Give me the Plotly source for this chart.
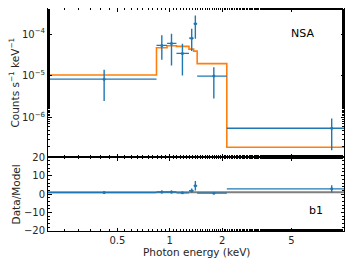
import plotly.graph_objects as go

# ---- data ----
energy = [0.42, 0.90, 1.023, 1.182, 1.336, 1.402, 1.79, 8.5]
e_lo = [0.20, 0.839, 0.965, 1.092, 1.289, 1.371, 1.436, 2.125]
e_hi = [0.839, 0.965, 1.092, 1.289, 1.371, 1.436, 2.125, 14.0]
rate = [8.3e-6, 5.34e-5, 5.96e-5, 3.43e-5, 7.97e-5, 1.76e-4, 9.8e-6, 5.5e-7]
rate_hi = [1.4e-5, 9.3e-5, 1.02e-4, 5.86e-5, 1.34e-4, 2.79e-4, 1.6e-5, 9.4e-7]
rate_lo = [2.48e-6, 2.43e-5, 1.77e-5, 1.02e-5, 3.9e-5, 7.7e-5, 2.83e-6, 1.64e-7]
model_edges = [0.20, 0.839, 0.965, 1.092, 1.289, 1.371, 1.436, 2.125, 10.0]
model_vals = [1.04e-5, 4.7e-5, 5.25e-5, 5.05e-5, 4.35e-5, 3.9e-5, 1.95e-5, 1.94e-7]
ratio = [0.80, 1.14, 1.14, 0.68, 1.83, 4.5, 0.50, 2.84]
ratio_up = [0.55, 0.84, 0.81, 0.48, 1.25, 2.6, 0.32, 2.0]
ratio_dn = [0.56, 0.62, 0.80, 0.48, 0.94, 2.5, 0.36, 2.0]
xticks = [0.5, 1, 2, 5]
xticklabels = ["0.5", "1", "2", "5"]
yticks = [1e-6, 1e-5, 1e-4]
yticklabels = ["10<sup>\u22126</sup>", "10<sup>\u22125</sup>", "10<sup>\u22124</sup>"]
rticks = [-20, -10, 0, 10, 20]
rticklabels = ["\u221220", "\u221210", "0", "10", "20"]

BLUE = "#1f77b4"
ORANGE = "#ff7f0e"

fig = go.Figure()

# model step
fig.add_trace(go.Scatter(
    x=model_edges, y=model_vals + [model_vals[-1]], mode="lines",
    line=dict(color=ORANGE, width=1.6, shape="hv"),
    xaxis="x", yaxis="y", showlegend=False, hoverinfo="skip"))

# data
fig.add_trace(go.Scatter(
    x=energy, y=rate, mode="markers",
    marker=dict(color=BLUE, size=3),
    error_x=dict(type="data", symmetric=False,
                 array=[h - c for h, c in zip(e_hi, energy)],
                 arrayminus=[c - l for c, l in zip(energy, e_lo)],
                 color=BLUE, thickness=1.4, width=0),
    error_y=dict(type="data", symmetric=False,
                 array=[h - r for h, r in zip(rate_hi, rate)],
                 arrayminus=[r - l for r, l in zip(rate, rate_lo)],
                 color=BLUE, thickness=1.4, width=0),
    xaxis="x", yaxis="y", showlegend=False))

# ratio = 1 line
fig.add_trace(go.Scatter(
    x=[0.15, 14], y=[1, 1], mode="lines",
    line=dict(color="#7f7f7f", width=2.2),
    xaxis="x2", yaxis="y2", showlegend=False, hoverinfo="skip"))

fig.add_trace(go.Scatter(
    x=energy, y=ratio, mode="markers",
    marker=dict(color=BLUE, size=3),
    error_x=dict(type="data", symmetric=False,
                 array=[h - c for h, c in zip(e_hi, energy)],
                 arrayminus=[c - l for c, l in zip(energy, e_lo)],
                 color=BLUE, thickness=1.4, width=0),
    error_y=dict(type="data", symmetric=False, array=ratio_up, arrayminus=ratio_dn,
                 color=BLUE, thickness=1.4, width=0),
    xaxis="x2", yaxis="y2", showlegend=False))

font = dict(family="DejaVu Sans", size=10, color="#262626")
tfont = dict(family="DejaVu Sans", size=10.5, color="#262626")
axcommon = dict(showline=True, linecolor="black", linewidth=1, mirror="allticks",
                ticks="inside", ticklen=3.5, tickcolor="black", showgrid=False,
                zeroline=False, tickfont=font, automargin=False)
minor = dict(ticks="inside", ticklen=2, tickcolor="black", showgrid=False)

fig.update_layout(
    width=345, height=257,
    margin=dict(l=40, r=9, t=0, b=34),
    paper_bgcolor="white", plot_bgcolor="white",
    font=font,
    xaxis=dict(axcommon, type="log", range=[-0.699, 1.0], domain=[0, 1],
               anchor="y", tickvals=xticks, ticktext=["", "", "", ""],
               minor=minor, matches="x2"),
    yaxis=dict(axcommon, type="log", range=[-6.952, -3.376], domain=[0.331, 1],
               anchor="x", tickvals=yticks, ticktext=yticklabels, minor=minor),
    xaxis2=dict(axcommon, type="log", range=[-0.699, 1.0], domain=[0, 1],
                anchor="y2", tickvals=xticks, ticktext=xticklabels, minor=minor),
    yaxis2=dict(axcommon, range=[-20, 20], domain=[0, 0.331], anchor="x2",
                tickvals=rticks, ticktext=rticklabels,
                minor=dict(minor, dtick=2)),
    annotations=[
        dict(text="Counts s<sup>\u22121</sup> keV<sup>\u22121</sup>", textangle=-90,
             x=-0.115, y=0.6655, xref="paper", yref="paper", xanchor="center",
             yanchor="middle", showarrow=False, font=tfont),
        dict(text="Data/Model", textangle=-90,
             x=-0.107, y=0.1655, xref="paper", yref="paper", xanchor="center",
             yanchor="middle", showarrow=False, font=tfont),
        dict(text="Photon energy (keV)",
             x=0.5, y=-0.095, xref="paper", yref="paper", xanchor="center",
             yanchor="middle", showarrow=False, font=tfont),
        dict(text="NSA", x=0.904, y=0.926, xref="paper", yref="paper",
             showarrow=False, font=dict(family="DejaVu Sans", size=11, color="black")),
        dict(text="b1", x=0.936, y=0.054, xref="paper", yref="paper",
             showarrow=False, font=dict(family="DejaVu Sans", size=11, color="black")),
    ],
)

fig.write_html("out.html")
